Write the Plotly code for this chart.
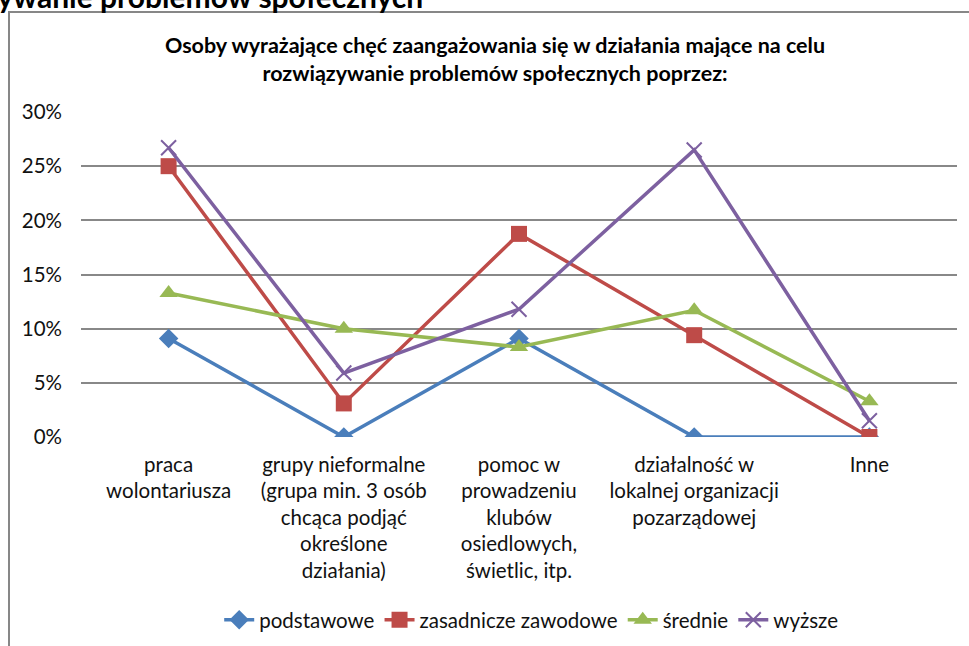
import plotly.graph_objects as go

categories = [
    "praca<br>wolontariusza",
    "grupy nieformalne<br>(grupa min. 3 osób<br>chcąca podjąć<br>określone<br>działania)",
    "pomoc w<br>prowadzeniu<br>klubów<br>osiedlowych,<br>świetlic, itp.",
    "działalność w<br>lokalnej organizacji<br>pozarządowej",
    "Inne",
]
series_names = ["podstawowe", "zasadnicze zawodowe", "średnie", "wyższe"]
podstawowe = [0.091, 0.0, 0.091, 0.0, 0.0]
zasadnicze = [0.25, 0.031, 0.1875, 0.094, 0.0]
srednie = [0.133, 0.10, 0.083, 0.117, 0.033]
wyzsze = [0.267, 0.059, 0.118, 0.265, 0.015]
y_ticks = [0, 0.05, 0.10, 0.15, 0.20, 0.25, 0.30]
y_ticktext = ["0%", "5%", "10%", "15%", "20%", "25%", "30%"]

title_text = ("Osoby wyrażające chęć zaangażowania się w działania mające na celu<br>"
              "rozwiązywanie problemów społecznych poprzez:")
page_heading = "rozwiązywanie problemów społecznych"

colors = ["#4A7EBB", "#BE4B48", "#98B954", "#7D60A0"]
symbols = ["diamond", "square", "triangle-up", "x-thin"]
msizes = [15, 16, 16, 15]
values = [podstawowe, zasadnicze, srednie, wyzsze]

FONT = "Lato"
x_idx = list(range(len(categories)))

fig = go.Figure()
for name, vals, c, s, ms in zip(series_names, values, colors, symbols, msizes):
    fig.add_trace(go.Scatter(
        x=x_idx, y=vals, name=name, mode="lines+markers",
        line=dict(color=c, width=3.5),
        marker=dict(symbol=s, size=ms, color=c,
                    line=dict(color=c, width=2 if s == "x-thin" else 0)),
    ))

L, R, T, B = 81, 12, 112, 209
W, H = 969, 646
pw, ph = W - L - R, H - T - B

def px(x):
    return (x - L) / pw

def py(y):
    return (H - B - y) / ph

fig.update_layout(
    width=W, height=H,
    margin=dict(l=L, r=R, t=T, b=B, autoexpand=False),
    paper_bgcolor="white", plot_bgcolor="white",
    font=dict(family=FONT, color="#111"),
    title=dict(
        text="<b>" + title_text + "</b>",
        font=dict(family=FONT, size=21.5, color="#000"),
        x=495 / W, xanchor="center", y=1 - 53 / H, yanchor="top",
        xref="container", yref="container",
    ),
    xaxis=dict(
        range=[-0.5, len(categories) - 0.5],
        tickmode="array", tickvals=x_idx, ticktext=categories,
        tickfont=dict(family=FONT, size=20.5, color="#111"),
        showgrid=False, zeroline=False, showline=False, ticks="",
        automargin=False, ticklabelstandoff=13,
    ),
    yaxis=dict(
        range=[0, 0.30],
        tickmode="array", tickvals=y_ticks, ticktext=y_ticktext,
        tickfont=dict(family=FONT, size=20.5, color="#111"),
        showgrid=True, gridcolor="#888888", gridwidth=1.5,
        zeroline=False, showline=False, ticks="",
        ticklabelstandoff=18, automargin=False,
    ),
    legend=dict(
        orientation="h", x=498 / W, xanchor="center",
        y=py(620), yanchor="middle",
        font=dict(family=FONT, size=20.5, color="#111"),
        traceorder="normal",
    ),
    showlegend=True,
)

fig.add_shape(type="rect", xref="paper", yref="paper",
              x0=px(9), x1=px(995), y0=py(12), y1=py(690),
              line=dict(color="#878787", width=2), fillcolor="rgba(0,0,0,0)",
              layer="below")

fig.add_annotation(
    text="<b>" + page_heading + "</b>", xref="paper", yref="paper",
    x=px(425), xanchor="right", y=py(16), yanchor="bottom",
    showarrow=False, font=dict(family=FONT, size=30, color="#000"),
)

fig.write_html(
    "out.html",
    config={"displayModeBar": False},
    post_script="document.body.style.margin='0';document.body.style.overflow='hidden';",
)
